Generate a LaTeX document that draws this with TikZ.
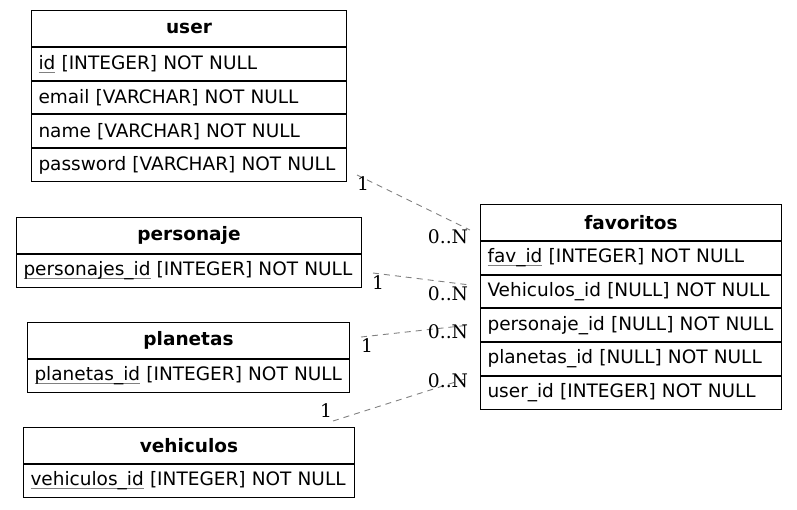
\documentclass[tikz,border=0pt]{standalone}
\usepackage{fontspec}
\setmainfont{DejaVu Sans}
\newfontfamily\lblfont{DejaVu Serif}
\newlength{\pkwidth}
\newcommand{\pkey}[1]{\settowidth{\pkwidth}{#1}\rlap{\color{gray}\rule[-3pt]{\pkwidth}{0.8pt}}#1}
\begin{document}
\begin{tikzpicture}[x=1pt,y=-1pt,
  hdr/.style={draw, line width=1pt, anchor=north west, inner sep=0pt, minimum width=#1, minimum height=36pt, font=\fontsize{18.5}{22}\selectfont\bfseries},
  rowbox/.style={draw, line width=1pt, anchor=north west, inner xsep=7pt, inner ysep=0pt, align=left, text width=#1-14pt, minimum height=32.7pt, font=\fontsize{18.5}{22}\selectfont},
  rel/.style={draw=gray, dash pattern=on 6pt off 5pt, line width=0.9pt},
  lbl/.style={inner sep=0pt, font=\fontsize{18.7}{22}\lblfont}]
\useasboundingbox (0,0) rectangle (797,509);
% user
\node[hdr=315pt] (user) at (31,10) {user};
\node[rowbox=315pt] (uid) at (user.south west) {\mbox{\pkey{id} [INTEGER] NOT NULL}};
\node[rowbox=315pt] (uemail) at (uid.south west) {\mbox{email [VARCHAR] NOT NULL}};
\node[rowbox=315pt] (uname) at (uemail.south west) {\mbox{name [VARCHAR] NOT NULL}};
\node[rowbox=315pt] (upass) at (uname.south west) {\mbox{password [VARCHAR] NOT NULL}};
% personaje
\node[hdr=345pt] (pers) at (16,217) {personaje};
\node[rowbox=345pt, minimum height=33pt] (persid) at (pers.south west) {\mbox{\pkey{personajes\_id} [INTEGER] NOT NULL}};
% planetas
\node[hdr=322pt] (plan) at (27,322) {planetas};
\node[rowbox=322pt, minimum height=33pt] (planid) at (plan.south west) {\mbox{\pkey{planetas\_id} [INTEGER] NOT NULL}};
% vehiculos
\node[hdr=331pt] (veh) at (23,427) {vehiculos};
\node[rowbox=331pt, minimum height=33pt] (vehid) at (veh.south west) {\mbox{\pkey{vehiculos\_id} [INTEGER] NOT NULL}};
% favoritos
\node[hdr=301pt] (fav) at (480,204) {favoritos};
\node[rowbox=301pt] (favid) at (fav.south west) {\mbox{\pkey{fav\_id} [INTEGER] NOT NULL}};
\node[rowbox=301pt] (fveh) at (favid.south west) {\mbox{Vehiculos\_id [NULL] NOT NULL}};
\node[rowbox=301pt] (fpers) at (fveh.south west) {\mbox{personaje\_id [NULL] NOT NULL}};
\node[rowbox=301pt] (fplan) at (fpers.south west) {\mbox{planetas\_id [NULL] NOT NULL}};
\node[rowbox=301pt] (fuser) at (fplan.south west) {\mbox{user\_id [INTEGER] NOT NULL}};
% connector ends
\coordinate (a1) at (357,175); \coordinate (b1) at (470,230);
\coordinate (a2) at (373,273); \coordinate (b2) at (470,285);
\coordinate (a3) at (361,337); \coordinate (b3) at (470,325);
\coordinate (a4) at (333,421); \coordinate (b4) at (468,378);
\draw[rel] (a1) -- (b1);
\draw[rel] (a2) -- (b2);
\draw[rel] (a3) -- (b3);
\draw[rel] (a4) -- (b4);
% labels
\node[lbl] (l1a) at (363,184) {1};
\node[lbl] (l1b) at (448,237) {0..N};
\node[lbl] (l2a) at (378,283) {1};
\node[lbl] (l2b) at (448,294) {0..N};
\node[lbl] (l3a) at (367,346) {1};
\node[lbl] (l3b) at (448,332) {0..N};
\node[lbl] (l4a) at (326,411) {1};
\node[lbl] (l4b) at (448,381) {0..N};
\end{tikzpicture}
\end{document}
